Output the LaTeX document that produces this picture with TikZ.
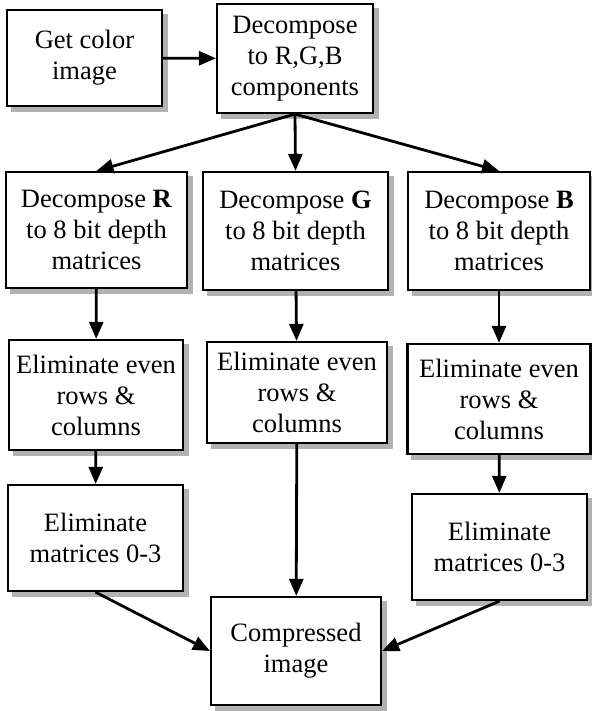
\documentclass[tikz,border=0pt]{standalone}
\usepackage{fontspec}
\setmainfont{Liberation Serif}
\usetikzlibrary{arrows.meta,backgrounds}
\tikzset{
    stage/.style = {
        draw,
        line width=2.2pt,
        fill = white,
        align = center,
        inner sep = 2pt,
        font = \fontsize{26.5}{31}\selectfont,
        },
    shade box/.style = {
        fill = gray!60,
        },
    flow/.style = {
        line width=2.8pt,
        -{Triangle[length=17pt,width=14pt]},
        },
}
\begin{document}
\begin{tikzpicture}[x=1pt,y=1pt]
            \useasboundingbox (0,0) rectangle (591,-711);
            % top row
            \node[stage, minimum width=155, minimum height=96] (get) at (84.5,-58) {Get color\\image};
            \node[stage, minimum width=156, minimum height=109] (rgb) at (295,-58.5) {Decompose\\to R,G,B\\components};

            % bit planes
            \node[stage, minimum width=181, minimum height=116] (rdec) at (96.5,-230) {Decompose \textbf{R}\\to 8 bit depth\\matrices};
            \node[stage, minimum width=185, minimum height=118] (gdec) at (295.5,-231) {Decompose \textbf{G}\\to 8 bit depth\\matrices};
            \node[stage, minimum width=182, minimum height=118] (bdec) at (499,-231) {Decompose \textbf{B}\\to 8 bit depth\\matrices};

            % rows and columns
            \node[stage, minimum width=174, minimum height=110] (relim) at (96,-395) {Eliminate even\\rows \&\\columns};
            \node[stage, minimum width=180, minimum height=101] (gelim) at (297,-392.5) {Eliminate even\\rows \&\\columns};
            \node[stage, minimum width=183, minimum height=110] (belim) at (499,-399) {Eliminate even\\rows \&\\columns};

            % matrices
            \node[stage, minimum width=175, minimum height=106] (rmat) at (95.5,-538) {Eliminate\\matrices 0-3};
            \node[stage, minimum width=175, minimum height=106] (bmat) at (499.5,-547) {Eliminate\\matrices 0-3};

            \node[stage, minimum width=170, minimum height=108] (comp) at (296,-651) {Compressed\\image};

            % shadows
            \begin{scope}[on background layer]
                \foreach \n in {get,rgb,rdec,gdec,bdec,relim,gelim,belim,rmat,bmat,comp}
                    \fill[shade box] ([shift={(5,-5)}]\n.south west) rectangle ([shift={(5,-5)}]\n.north east);
            \end{scope}

            \path[flow] (get) edge (rgb);
            \path[flow] (rgb.south) edge (rdec.north);
            \path[flow] (rgb.south) edge (gdec.north);
            \path[flow] (rgb.south) edge (bdec.north);
            \path[flow] (rdec) edge (relim);
            \path[flow] (gdec) edge (gelim);
            \path[flow] (bdec) edge (belim);
            \path[flow] (relim) edge (rmat);
            \path[flow] (belim) edge (bmat);
            \path[flow] (gelim) edge (comp);
            \path[flow] (rmat.south) edge (comp.west);
            \path[flow] (bmat.south) edge (comp.east);
        \end{tikzpicture}
\end{document}
